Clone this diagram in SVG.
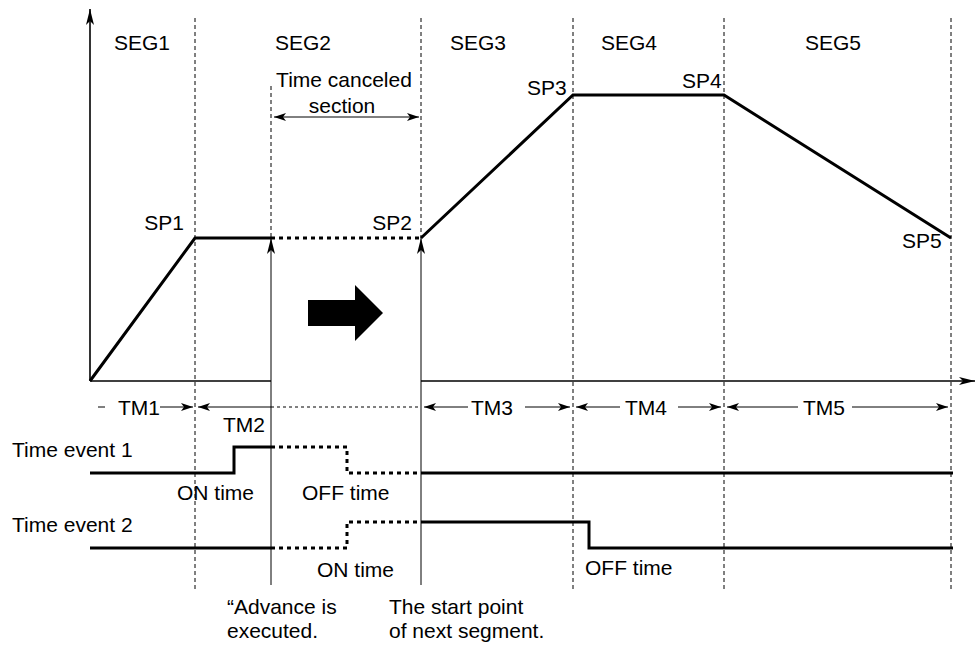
<svg xmlns="http://www.w3.org/2000/svg" width="976" height="645" viewBox="0 0 976 645">
<defs>
<marker id="ah" viewBox="0 0 12 8" refX="12" refY="4" markerWidth="12" markerHeight="8" markerUnits="userSpaceOnUse" orient="auto">
<path d="M0,0 L12,4 L0,8 L3,4 z" fill="#000"/>
</marker>
<marker id="ahs" viewBox="0 0 12 8" refX="12" refY="4" markerWidth="12" markerHeight="8" markerUnits="userSpaceOnUse" orient="auto-start-reverse">
<path d="M0,0 L12,4 L0,8 L3,4 z" fill="#000"/>
</marker>
<marker id="av" viewBox="0 0 16 8" refX="16" refY="4" markerWidth="16" markerHeight="8" markerUnits="userSpaceOnUse" orient="auto">
<path d="M0,0 L16,4 L0,8 L4,4 z" fill="#000"/>
</marker>
</defs>
<style>
text{font-family:"Liberation Sans",Arial,sans-serif;font-size:21px;fill:#000}
.guide{stroke:#000;stroke-width:1;stroke-dasharray:4,3;fill:none}
.thin{stroke:#000;stroke-width:1;fill:none}
.axis{stroke:#000;stroke-width:1.6;fill:none}
.thick{stroke:#000;stroke-width:3;fill:none;stroke-linejoin:miter}
.dot{stroke:#000;stroke-width:3;fill:none;stroke-dasharray:4,4}
.tmdash{stroke:#000;stroke-width:1;stroke-dasharray:3,3;fill:none}
.mid{text-anchor:middle}
.end{text-anchor:end}
</style>
<rect width="976" height="645" fill="#fff"/>
<g id="connectors">
<!-- guides -->
<line class="guide" x1="195" y1="18" x2="195" y2="592"/>
<line class="guide" x1="421" y1="18" x2="421" y2="238"/>
<line class="guide" x1="271" y1="86" x2="271" y2="238"/>
<line class="guide" x1="573" y1="18" x2="573" y2="592"/>
<line class="guide" x1="724" y1="18" x2="724" y2="592"/>
<line class="guide" x1="951" y1="18" x2="951" y2="592"/>
<!-- axes -->
<line class="axis" x1="90" y1="381" x2="90" y2="9" marker-end="url(#av)"/>
<line class="axis" x1="90" y1="381" x2="271" y2="381"/>
<line class="axis" x1="421" y1="381" x2="975" y2="381" marker-end="url(#av)"/>
<!-- profile -->
<polyline class="thick" points="90,381 195,238 271,238"/>
<line class="dot" x1="271" y1="238" x2="421" y2="238"/>
<polyline class="thick" points="421,238 573,95 724,95 951,238"/>
<!-- vertical event arrows -->
<line class="thin" x1="271" y1="585" x2="271" y2="238" marker-end="url(#av)"/>
<line class="thin" x1="421" y1="585" x2="421" y2="238" marker-end="url(#av)"/>
<!-- time canceled -->
<line class="thin" x1="274" y1="117" x2="419" y2="117" marker-start="url(#ahs)" marker-end="url(#ahs)"/>
<!-- TM row -->
<line class="thin" x1="98" y1="407" x2="105" y2="407"/>
<line class="thin" x1="160" y1="407" x2="193" y2="407" marker-end="url(#ah)"/>
<line class="thin" x1="271" y1="407" x2="198" y2="407" marker-end="url(#ah)"/>
<line class="tmdash" x1="271" y1="407" x2="421" y2="407"/>
<line class="thin" x1="468" y1="407" x2="424" y2="407" marker-end="url(#ah)"/>
<line class="thin" x1="525" y1="407" x2="570" y2="407" marker-end="url(#ah)"/>
<line class="thin" x1="620" y1="407" x2="576" y2="407" marker-end="url(#ah)"/>
<line class="thin" x1="678" y1="407" x2="721" y2="407" marker-end="url(#ah)"/>
<line class="thin" x1="798" y1="407" x2="727" y2="407" marker-end="url(#ah)"/>
<line class="thin" x1="852" y1="407" x2="948" y2="407" marker-end="url(#ah)"/>
<!-- time events -->
<polyline class="thick" points="90,473 234,473 234,447 271,447"/>
<polyline class="dot" points="271,447 347,447 347,473 421,473"/>
<line class="thick" x1="421" y1="473" x2="953" y2="473"/>
<line class="thick" x1="90" y1="548" x2="271" y2="548"/>
<polyline class="dot" points="271,548 347,548 347,522 421,522"/>
<polyline class="thick" points="421,522 589,522 589,548 953,548"/>
</g>
<g id="big-arrow">
<polygon points="308,300 355,300 355,285 383,313 355,341 355,326 308,326" fill="#000"/>
</g>
<g id="segments">
<text class="mid" x="142" y="50">SEG1</text>
<text class="mid" x="303" y="50">SEG2</text>
<text class="mid" x="478" y="50">SEG3</text>
<text class="mid" x="629" y="50">SEG4</text>
<text class="mid" x="833" y="50">SEG5</text>
</g>
<g id="canceled">
<text class="mid" x="344" y="87">Time canceled</text>
<text class="mid" x="342" y="113">section</text>
</g>
<g id="setpoints">
<text class="end" x="184" y="230">SP1</text>
<text class="end" x="412" y="230">SP2</text>
<text x="527" y="95">SP3</text>
<text x="682" y="88">SP4</text>
<text x="902" y="248">SP5</text>
</g>
<g id="times">
<text x="118" y="415">TM1</text>
<text x="223" y="432">TM2</text>
<text x="471" y="415">TM3</text>
<text x="625" y="415">TM4</text>
<text x="803" y="415">TM5</text>
</g>
<g id="events">
<text x="12" y="457">Time event 1</text>
<text x="12" y="532">Time event 2</text>
<text x="177" y="500">ON time</text>
<text x="302" y="500">OFF time</text>
<text x="317" y="577">ON time</text>
<text x="585" y="575">OFF time</text>
</g>
<g id="notes">
<text x="227" y="614">“Advance is</text>
<text x="227" y="638">executed.</text>
<text x="389" y="614">The start point</text>
<text x="389" y="638">of next segment.</text>
</g>
</svg>
